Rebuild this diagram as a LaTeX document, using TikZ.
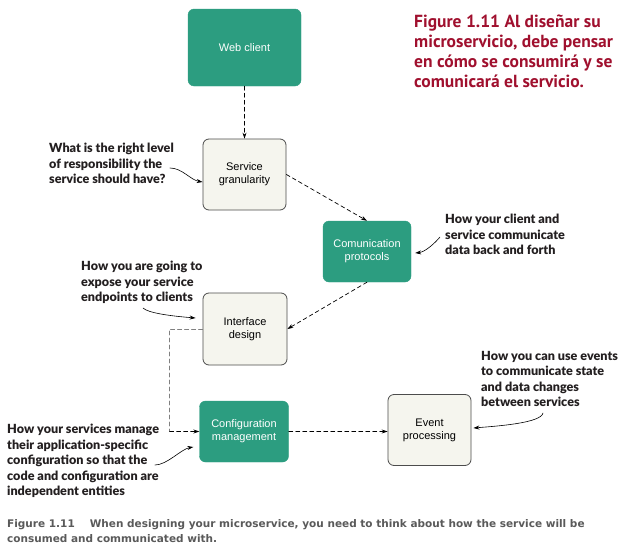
\documentclass[tikz,border=0pt]{standalone}
\usepackage{fontspec}
\setmainfont{Liberation Sans}
\newfontfamily\notefont{Lato}[BoldFont={Lato Black}]
\newfontfamily\headfont{PT Sans}
\newfontfamily\capfont{DejaVu Sans}
\usetikzlibrary{positioning,arrows.meta,calc}
\definecolor{boxgreen}{HTML}{2C9D80}
\definecolor{boxpale}{HTML}{F5F5EE}
\definecolor{titlered}{HTML}{A0102E}
\definecolor{capgray}{HTML}{5A5A5A}
\definecolor{notedark}{HTML}{231F20}
\begin{document}
\begin{tikzpicture}[x=1pt,y=-1pt,>=Stealth,line join=round,line cap=round]
\tikzset{
  greenbox/.style={rectangle,rounded corners=6pt,fill=boxgreen,draw=boxgreen,text=white,
    align=center,font=\fontsize{11}{13}\selectfont},
  palebox/.style={rectangle,rounded corners=6pt,fill=boxpale,draw=black!70,line width=0.8pt,
    align=center,font=\fontsize{11}{13}\selectfont},
  flow/.style={->,dash pattern=on 4pt off 3pt,line width=0.7pt,>={Stealth[length=6pt,width=4pt]}},
  note/.style={anchor=north west,inner sep=0pt,align=left,text=notedark,
    font=\notefont\bfseries\fontsize{12.6}{15.5}\selectfont},
  notearrow/.style={->,line width=0.6pt,>={Stealth[length=6pt,width=4pt]}}
}
\useasboundingbox[fill=white] (0,0) rectangle (621,554);
% boxes
\node[greenbox,minimum width=113,minimum height=77] (web) at (244.5,47.5) {Web client};
\node[palebox,minimum width=83,minimum height=71] (gran) at (244.5,174.5) {Service\\granularity};
\node[greenbox,minimum width=88,minimum height=61] (proto) at (367,251.5) {Comunication\\protocols};
\node[palebox,minimum width=84,minimum height=72] (iface) at (245,329) {Interface\\design};
\node[greenbox,minimum width=89,minimum height=61] (conf) at (244,431.5) {Configuration\\management};
\node[palebox,minimum width=83,minimum height=71] (event) at (429.5,430) {Event\\processing};
% flow
\draw[flow] (web) -- (gran);
\draw[flow] (gran.east) -- (proto.north);
\draw[flow] (proto.south) -- (iface.east);
\draw[dash pattern=on 4pt off 3pt,line width=0.8pt,black!50] (iface.west) -- ++(-33,0) coordinate (bend) -- (bend |- conf.west);
\draw[flow] (bend |- conf.west) -- (conf.west);
\draw[flow] (conf.east) -- (conf.east -| event.west);
% notes
\node[note] (q1) at (49,143) {What is the right level\\of responsibility the\\service should have?};
\node[note] (q2) at (445,214) {How your client and\\service communicate\\data back and forth};
\node[note] (q3) at (81,261) {How you are going to\\expose your service\\endpoints to clients};
\node[note] (q4) at (7,424) {How your services manage\\their application-specific\\configuration so that the\\code and configuration are\\independent entities};
\node[note] (q5) at (481,351) {How you can use events\\to communicate state\\and data changes\\between services};
\draw[notearrow] ([shift={(121,25)}]q1.north west) .. controls +(12,0) and +(-12,-2) .. ([yshift=-7.5]gran.west);
\draw[notearrow] ([shift={(-5,23)}]q2.north west) .. controls +(-5,6) and +(10,-1) .. ([xshift=4,yshift=-1.5]proto.east);
\draw[notearrow] ([shift={(62,47)}]q3.north west) .. controls +(5,5) and +(-25,-2) .. ([xshift=-7,yshift=11]iface.west);
\draw[notearrow] ([shift={(148,41)}]q4.north west) .. controls +(12,0) and +(-12,2) .. ([xshift=-6,yshift=-15.5]conf.west);
\draw[notearrow] ([shift={(62,62)}]q5.north west) .. controls +(-2,10) and +(25,-2) .. ([xshift=2,yshift=2]event.east);
% title and caption
\node[anchor=north west,inner sep=0pt,align=left,text=titlered,font=\headfont\bfseries\fontsize{17.5}{20}\selectfont] (title) at (414,15) {Figure 1.11 Al diseñar su\\microservicio, debe pensar\\en cómo se consumirá y se\\comunicará el servicio.};
\node[anchor=north west,inner sep=0pt,align=left,text=capgray,font=\capfont\bfseries\fontsize{10.5}{15.5}\selectfont] (caption) at (7,519) {Figure 1.11\hspace{15pt}When designing your microservice, you need to think about how the service will be\\consumed and communicated with.};
\end{tikzpicture}
\end{document}
